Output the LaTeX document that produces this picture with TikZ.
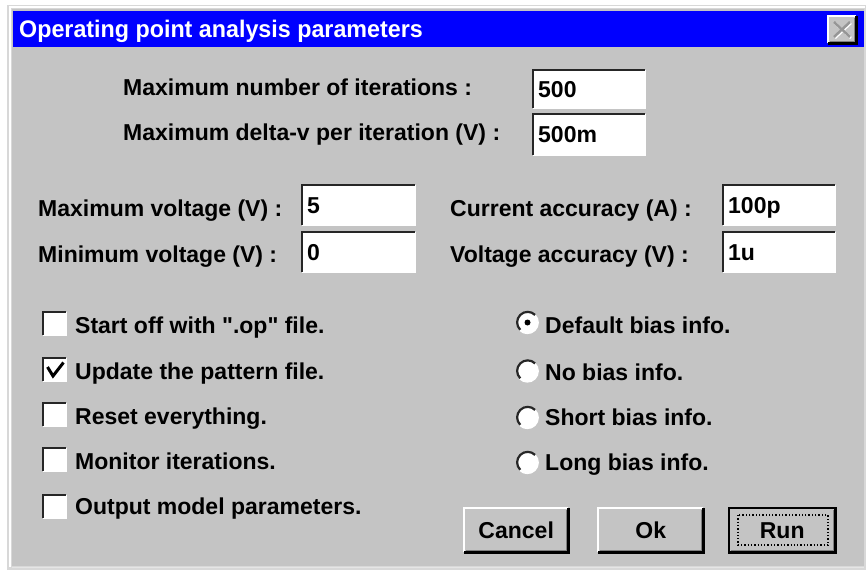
\documentclass[tikz,border=0pt]{standalone}
\usepackage{fontspec}
\setmainfont{Liberation Sans}[Ligatures=TeXOff]
\newfontfamily\titlefam{Liberation Sans}[FakeStretch=0.97]
\definecolor{dlg}{RGB}{196,196,196}
\definecolor{framegray}{RGB}{216,216,216}
\definecolor{dkgray}{RGB}{128,128,128}
\definecolor{xgray}{RGB}{150,150,150}
\definecolor{tblue}{RGB}{0,0,255}
\newcommand\uifont{\fontsize{23}{27}\selectfont\bfseries}
\newcommand\sunkenedge[1]{%
  \draw[line width=2pt,white] (#1.south west) -- (#1.south east) -- (#1.north east);
  \draw[line width=2.5pt,black!85] (#1.south west) -- (#1.north west) -- (#1.north east);
}
\newcommand\raisededge[1]{%
  \draw[line width=2pt,white] (#1.south west) -- (#1.north west) -- (#1.north east);
  \draw[line width=1.5pt,dkgray] ([xshift=2pt,yshift=2pt]#1.south west) -- ([xshift=-2pt,yshift=2pt]#1.south east) -- ([xshift=-2pt,yshift=-2pt]#1.north east);
  \draw[line width=2.5pt,black] (#1.south west) -- (#1.south east) -- (#1.north east);
}
\begin{document}
\begin{tikzpicture}[x=1pt,y=-1pt,
  lbl/.style={anchor=base west,inner sep=0pt,font=\uifont},
  field/.style={anchor=north west,fill=white,inner sep=0pt,minimum height=40pt},
  chk/.style={anchor=north west,fill=white,inner sep=0pt,minimum size=23pt},
  radio/.style={circle,fill=white,inner sep=0pt,minimum size=21pt},
  btn/.style={anchor=north west,fill=dlg,inner sep=0pt,minimum height=44pt,font=\uifont}]
\useasboundingbox (0,0) rectangle (867,572);
\fill[white] (0,0) rectangle (867,572);
% window frame
\fill[framegray] (7,5) rectangle (866,570);
\fill[dlg] (12,9) rectangle (864,566);
\draw[white,line width=1.5pt] (10,567) -- (10,7) -- (865,7);
\draw[white!90!black,line width=1pt] (12,567.5) -- (864,567.5);
% title bar
\fill[tblue] (13,11) rectangle (864,47);
\node[anchor=base west,inner sep=0pt,text=white,font=\titlefam\fontsize{24}{28}\selectfont\bfseries] (title) at (19,38) {Operating point analysis parameters};
\node[anchor=north west,fill=dlg,inner sep=0pt,minimum width=28pt,minimum height=27pt] (cls) at (828,16) {};
\raisededge{cls}
\draw[white,line width=2.5pt] (835,23) -- (851,38) (851,23) -- (835,38);
\draw[xgray,line width=2.5pt] (834,22) -- (850,37) (850,22) -- (834,37);
% iteration fields
\node[lbl] (l1) at (123,96) {Maximum number of iterations :};
\node[field,minimum width=112pt,minimum height=38pt] (f1) at (533,70) {};
\sunkenedge{f1}
\node[lbl] (v1) at ([xshift=5pt,yshift=-8pt]f1.west) {500};
\node[lbl] (l2) at (123,141) {Maximum delta-v per iteration (V) :};
\node[field,minimum width=112pt,minimum height=41pt] (f2) at (533,114) {};
\sunkenedge{f2}
\node[lbl] (v2) at ([xshift=5pt,yshift=-8pt]f2.west) {500m};
% voltage fields
\node[lbl] (l3) at (38,217) {Maximum voltage (V) :};
\node[field,minimum width=113pt] (f3) at (302,185) {};
\sunkenedge{f3}
\node[lbl] (v3) at ([xshift=5pt,yshift=-8pt]f3.west) {5};
\node[lbl] (l4) at (38,262) {Minimum voltage (V) :};
\node[field,minimum width=113pt] (f4) at (302,232) {};
\sunkenedge{f4}
\node[lbl] (v4) at ([xshift=5pt,yshift=-8pt]f4.west) {0};
\node[lbl] (l5) at (450,217) {Current accuracy (A) :};
\node[field,minimum width=112pt] (f5) at (723,185) {};
\sunkenedge{f5}
\node[lbl] (v5) at ([xshift=5pt,yshift=-8pt]f5.west) {100p};
\node[lbl] (l6) at (450,262) {Voltage accuracy (V) :};
\node[field,minimum width=112pt] (f6) at (723,232) {};
\sunkenedge{f6}
\node[lbl] (v6) at ([xshift=5pt,yshift=-8pt]f6.west) {1u};
% check boxes
\node[chk] (c1) at (43,312) {}; \sunkenedge{c1}
\node[lbl] (t1) at (75,333) {Start off with ".op" file.};
\node[chk] (c2) at (43,358) {}; \sunkenedge{c2}
\draw[black,line width=3pt,line join=miter] (47.5,367) -- (53,376) -- (63.5,362.5);
\node[lbl] (t2) at (75,379) {Update the pattern file.};
\node[chk] (c3) at (43,403) {}; \sunkenedge{c3}
\node[lbl] (t3) at (75,424) {Reset everything.};
\node[chk] (c4) at (43,448) {}; \sunkenedge{c4}
\node[lbl] (t4) at (75,469) {Monitor iterations.};
\node[chk] (c5) at (43,495) {}; \sunkenedge{c5}
\node[lbl] (t5) at (75,514) {Output model parameters.};
% radio buttons
\foreach \n/\yy in {r1/322.5,r2/371,r3/417.5,r4/462.5}{
  \node[radio] (\n) at (527.5,\yy) {};
  \draw[white,line width=2pt] (\n.225) arc[start angle=225,end angle=405,radius=10.5pt];
  \draw[black!85,line width=2.2pt] (\n.45) arc[start angle=45,end angle=225,radius=10.5pt];
}
\fill[black] (r1.center) circle[radius=3pt];
\node[lbl] (rt1) at (545,333) {Default bias info.};
\node[lbl] (rt2) at (545,380) {No bias info.};
\node[lbl] (rt3) at (545,425) {Short bias info.};
\node[lbl] (rt4) at (545,470) {Long bias info.};
% buttons
\node[btn,minimum width=104pt] (cancel) at (464,508) {Cancel};
\raisededge{cancel}
\node[btn,minimum width=105pt] (ok) at (598,508) {Ok};
\raisededge{ok}
\node[btn,minimum width=106pt] (run) at (729,508) {Run};
\raisededge{run}
\draw[black,line width=2.5pt] (run.south west) rectangle (run.north east);
\draw[black,line width=1.3pt,dotted] (738,515) rectangle (828,545);
\end{tikzpicture}
\end{document}
